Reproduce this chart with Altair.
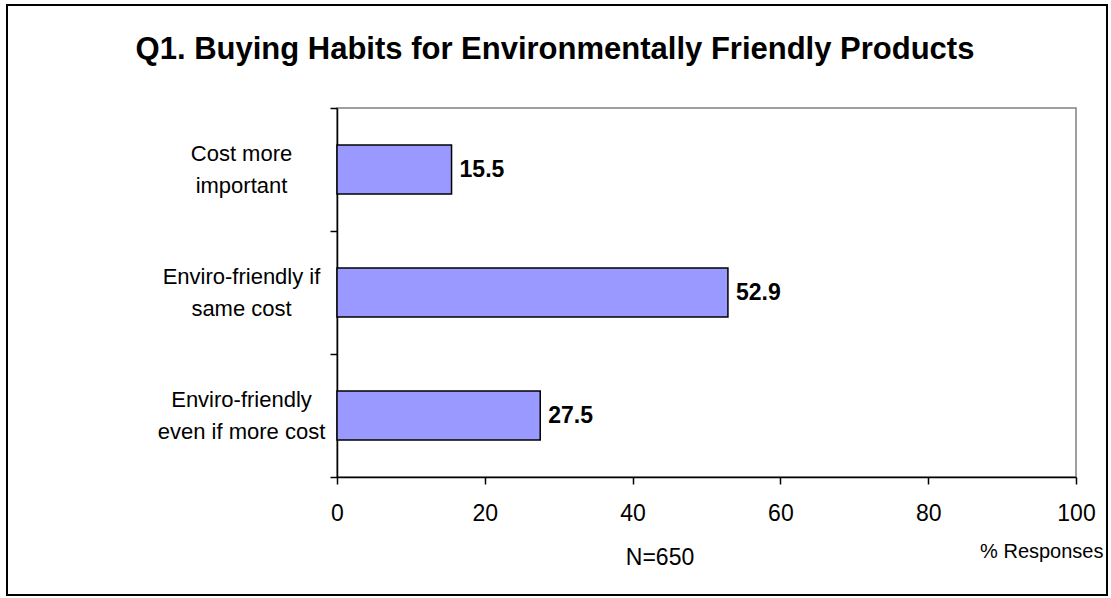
import altair as alt
import pandas as pd

# Survey answers (line breaks mark where each axis label wraps)
categories = [
    "Cost more\nimportant",
    "Enviro-friendly if\nsame cost",
    "Enviro-friendly\neven if more cost",
]
responses = [15.5, 52.9, 27.5]
x_ticks = [0, 20, 40, 60, 80, 100]
sample_note = "N=650"
title_text = "Q1. Buying Habits for Environmentally Friendly Products"
x_title = "% Responses"

FONT = "Liberation Sans"
W, H = 739, 369
LABEL_LINE = 32

df = pd.DataFrame({"category": categories, "pct": responses})

x_enc = alt.X(
    "pct:Q",
    scale=alt.Scale(domain=[0, 100], nice=False),
    axis=alt.Axis(
        values=x_ticks,
        grid=False,
        title=x_title,
        titleFont=FONT,
        titleFontSize=20,
        titleFontWeight="normal",
        titleColor="black",
        titleX=766,
        titleY=74,
        titleAlign="right",
        titleBaseline="middle",
        labelFont=FONT,
        labelFontSize=23,
        labelColor="black",
        labelPadding=18,
        labelFlush=False,
        tickSize=7,
        tickColor="black",
        tickWidth=1.5,
        domainColor="black",
        domainWidth=1.5,
    ),
)

# Bands fill the plot height so that the extent ticks fall between categories
y_enc = alt.Y(
    "category:N",
    sort=categories,
    title=None,
    scale=alt.Scale(paddingInner=0, paddingOuter=0),
    axis=alt.Axis(
        tickBand="extent",
        grid=False,
        labelExpr="split(datum.label, '\\n')",
        labelAlign="center",
        labelBaseline="middle",
        labelPadding=89,
        labelLineHeight=LABEL_LINE,
        labelOffset=-LABEL_LINE / 2,
        labelFont=FONT,
        labelFontSize=22,
        labelColor="black",
        labelLimit=0,
        tickSize=7,
        tickColor="black",
        tickWidth=1.5,
        domainColor="black",
        domainWidth=1.5,
    ),
)

bars = alt.Chart(df).mark_bar(
    color="#9999FF", stroke="black", strokeWidth=1.5, height={"band": 0.4}
).encode(x=x_enc, y=y_enc)

values = alt.Chart(df).mark_text(
    align="left", baseline="middle", dx=8,
    font=FONT, fontSize=23, fontWeight="bold", color="black",
).encode(x=x_enc, y=y_enc, text=alt.Text("pct:Q", format=".1f"))

note = alt.Chart(pd.DataFrame({"note": [sample_note]})).mark_text(
    font=FONT, fontSize=23, color="black", baseline="middle", align="center"
).encode(text="note:N", x=alt.value(323), y=alt.value(450))

heading = alt.Chart(pd.DataFrame({"t": [title_text]})).mark_text(
    font=FONT, fontSize=31, fontWeight="bold", color="black",
    baseline="middle", align="center",
).encode(text="t:N", x=alt.value(218), y=alt.value(-58))

frame = alt.Chart(pd.DataFrame({"f": [0]})).mark_rect(
    fill="transparent", stroke="black", strokeWidth=2
).encode(
    x=alt.value(-330), x2=alt.value(770),
    y=alt.value(-103), y2=alt.value(487),
)

chart = (
    alt.layer(frame, bars, values, note, heading)
    .properties(
        width=W,
        height=H,
        autosize=alt.AutoSizeParams(type="none"),
        padding={"left": 337, "top": 108, "right": 35, "bottom": 121},
        background="white",
    )
    .configure_view(stroke="#808080", strokeWidth=1.5)
)

chart.save("out.html", embed_options={"renderer": "svg", "actions": False})
